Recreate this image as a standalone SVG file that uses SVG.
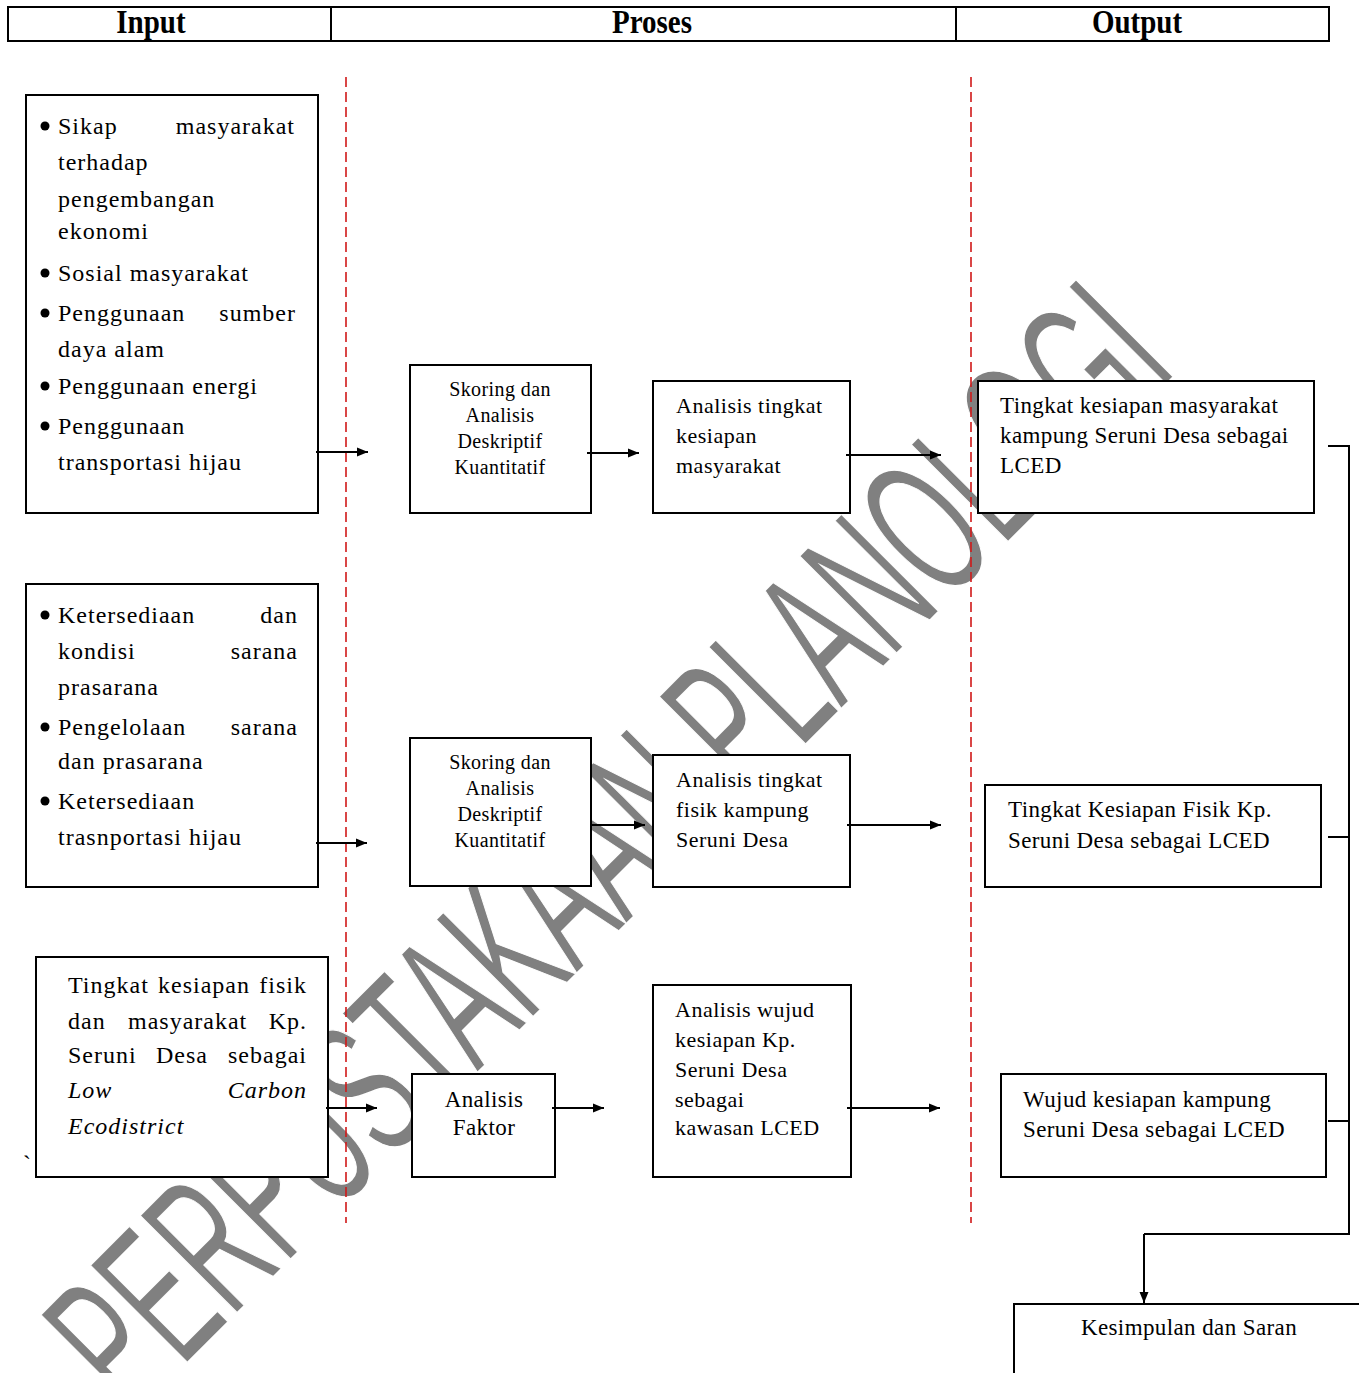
<svg xmlns="http://www.w3.org/2000/svg" width="1359" height="1373" viewBox="0 0 1359 1373">
<defs>
<style>
.box{fill:#fff;stroke:#000;stroke-width:2}
.t{font-family:"Liberation Serif","Times New Roman",serif;fill:#000}
.in{font-size:24px;letter-spacing:1px}
.pr{font-size:20px;letter-spacing:0.4px}
.pa{font-size:22px;letter-spacing:0.5px}
.out{font-size:23px;letter-spacing:0.4px}
.hd{font-family:"Liberation Serif","Times New Roman",serif;font-weight:bold;font-size:29px;text-anchor:middle}
.c{stroke:#000;stroke-width:2;fill:none}
.a{marker-end:url(#ah)}
.red{stroke:#d01818;stroke-width:1.6;stroke-dasharray:10 5;fill:none}
.e{text-anchor:end}
.m{text-anchor:middle}
</style>
<marker id="ah" markerUnits="userSpaceOnUse" markerWidth="12" markerHeight="10" refX="11" refY="5" orient="auto">
<path d="M0,0.5 L11,5 L0,9.5 z" fill="#000"/>
</marker>
</defs>
<rect width="1359" height="1373" fill="#fff"/>

<g id="watermark">
<text transform="translate(132,1418) rotate(-45)" x="0" y="0" textLength="1482" lengthAdjust="spacingAndGlyphs" font-family="Liberation Sans, Arial, sans-serif" font-size="200" fill="#808080" stroke="#fff" stroke-width="1.5">PERPUSTAKAAN PLANOLOGI</text>
</g>

<g id="header">
<rect x="8" y="7" width="1321" height="34" fill="none" stroke="#000" stroke-width="2"/>
<line x1="331" y1="7" x2="331" y2="41" stroke="#000" stroke-width="2"/>
<line x1="956" y1="7" x2="956" y2="41" stroke="#000" stroke-width="2"/>
<text class="hd" transform="translate(151,33) scale(1,1.15)">Input</text>
<text class="hd" transform="translate(652,33) scale(1,1.15)">Proses</text>
<text class="hd" transform="translate(1137,33) scale(1,1.15)">Output</text>
</g>

<g id="input1">
<rect class="box" x="26" y="95" width="292" height="418"/>
<circle cx="45" cy="126" r="4.5"/>
<circle cx="45" cy="273" r="4.5"/>
<circle cx="45" cy="313" r="4.5"/>
<circle cx="45" cy="386" r="4.5"/>
<circle cx="45" cy="426" r="4.5"/>
<text class="t in" x="58" y="134">Sikap</text>
<text class="t in e" x="295" y="134">masyarakat</text>
<text class="t in" x="58" y="170">terhadap</text>
<text class="t in" x="58" y="207">pengembangan</text>
<text class="t in" x="58" y="239">ekonomi</text>
<text class="t in" x="58" y="281">Sosial masyarakat</text>
<text class="t in" x="58" y="321">Penggunaan</text>
<text class="t in e" x="296" y="321">sumber</text>
<text class="t in" x="58" y="357">daya alam</text>
<text class="t in" x="58" y="394">Penggunaan energi</text>
<text class="t in" x="58" y="434">Penggunaan</text>
<text class="t in" x="58" y="470">transportasi hijau</text>
</g>

<g id="input2">
<rect class="box" x="26" y="584" width="292" height="303"/>
<circle cx="45" cy="615" r="4.5"/>
<circle cx="45" cy="727" r="4.5"/>
<circle cx="45" cy="801" r="4.5"/>
<text class="t in" x="58" y="623">Ketersediaan</text>
<text class="t in e" x="298" y="623">dan</text>
<text class="t in" x="58" y="659">kondisi</text>
<text class="t in e" x="298" y="659">sarana</text>
<text class="t in" x="58" y="695">prasarana</text>
<text class="t in" x="58" y="735">Pengelolaan</text>
<text class="t in e" x="298" y="735">sarana</text>
<text class="t in" x="58" y="769">dan prasarana</text>
<text class="t in" x="58" y="809">Ketersediaan</text>
<text class="t in" x="58" y="845">trasnportasi hijau</text>
</g>

<g id="input3">
<rect class="box" x="36" y="957" width="292" height="220"/>
<text class="t in" x="68" y="993">Tingkat</text>
<text class="t in" x="158" y="993">kesiapan</text>
<text class="t in e" x="307" y="993">fisik</text>
<text class="t in" x="68" y="1029">dan</text>
<text class="t in" x="128" y="1029">masyarakat</text>
<text class="t in e" x="307" y="1029">Kp.</text>
<text class="t in" x="68" y="1063">Seruni</text>
<text class="t in" x="156" y="1063">Desa</text>
<text class="t in e" x="307" y="1063">sebagai</text>
<text class="t in" x="68" y="1098" font-style="italic">Low</text>
<text class="t in e" x="307" y="1098" font-style="italic">Carbon</text>
<text class="t in" x="68" y="1134" font-style="italic">Ecodistrict</text>
</g>
<text class="t in" x="23" y="1172">`</text>

<g id="proc1a">
<rect class="box" x="410" y="365" width="181" height="148"/>
<text class="t pr m" x="500" y="396">Skoring dan</text>
<text class="t pr m" x="500" y="422">Analisis</text>
<text class="t pr m" x="500" y="448">Deskriptif</text>
<text class="t pr m" x="500" y="474">Kuantitatif</text>
</g>
<g id="proc1b">
<rect class="box" x="653" y="381" width="197" height="132"/>
<text class="t pa" x="676" y="413">Analisis tingkat</text>
<text class="t pa" x="676" y="443">kesiapan</text>
<text class="t pa" x="676" y="473">masyarakat</text>
</g>
<g id="out1">
<rect class="box" x="978" y="381" width="336" height="132"/>
<text class="t out" x="1000" y="413">Tingkat kesiapan masyarakat</text>
<text class="t out" x="1000" y="443">kampung Seruni Desa sebagai</text>
<text class="t out" x="1000" y="473">LCED</text>
</g>

<g id="proc2a">
<rect class="box" x="410" y="738" width="181" height="148"/>
<text class="t pr m" x="500" y="769">Skoring dan</text>
<text class="t pr m" x="500" y="795">Analisis</text>
<text class="t pr m" x="500" y="821">Deskriptif</text>
<text class="t pr m" x="500" y="847">Kuantitatif</text>
</g>
<g id="proc2b">
<rect class="box" x="653" y="755" width="197" height="132"/>
<text class="t pa" x="676" y="787">Analisis tingkat</text>
<text class="t pa" x="676" y="817">fisik kampung</text>
<text class="t pa" x="676" y="847">Seruni Desa</text>
</g>
<g id="out2">
<rect class="box" x="985" y="785" width="336" height="102"/>
<text class="t out" x="1008" y="817">Tingkat Kesiapan Fisik Kp.</text>
<text class="t out" x="1008" y="848">Seruni Desa sebagai LCED</text>
</g>

<g id="proc3a">
<rect class="box" x="412" y="1074" width="143" height="103"/>
<text class="t out m" x="484" y="1107">Analisis</text>
<text class="t out m" x="484" y="1135">Faktor</text>
</g>
<g id="proc3b">
<rect class="box" x="653" y="985" width="198" height="192"/>
<text class="t pa" x="675" y="1017">Analisis wujud</text>
<text class="t pa" x="675" y="1047">kesiapan Kp.</text>
<text class="t pa" x="675" y="1077">Seruni Desa</text>
<text class="t pa" x="675" y="1107">sebagai</text>
<text class="t pa" x="675" y="1135">kawasan LCED</text>
</g>
<g id="out3">
<rect class="box" x="1001" y="1074" width="325" height="103"/>
<text class="t out" x="1023" y="1107">Wujud kesiapan kampung</text>
<text class="t out" x="1023" y="1137">Seruni Desa sebagai LCED</text>
</g>

<g id="conclusion">
<rect class="box" x="1014" y="1304" width="420" height="200"/>
<text class="t out m" x="1189" y="1335">Kesimpulan dan Saran</text>
</g>

<g id="dividers">
<line class="red" x1="346" y1="77" x2="346" y2="1223"/>
<line class="red" x1="971" y1="77" x2="971" y2="1223"/>
</g>

<g id="connectors">
<line class="c a" x1="316" y1="452" x2="368" y2="452"/>
<line class="c a" x1="587" y1="453" x2="639" y2="453"/>
<line class="c a" x1="846" y1="455" x2="941" y2="455"/>
<line class="c a" x1="316" y1="843" x2="367" y2="843"/>
<line class="c a" x1="591" y1="825" x2="645" y2="825"/>
<line class="c a" x1="847" y1="825" x2="941" y2="825"/>
<line class="c a" x1="326" y1="1108" x2="377" y2="1108"/>
<line class="c a" x1="552" y1="1108" x2="604" y2="1108"/>
<line class="c a" x1="847" y1="1108" x2="940" y2="1108"/>
<polyline class="c" points="1328,446 1349,446 1349,1234 1144,1234"/>
<line class="c a" x1="1144" y1="1234" x2="1144" y2="1303"/>
<line class="c" x1="1328" y1="837" x2="1349" y2="837"/>
<line class="c" x1="1328" y1="1121" x2="1349" y2="1121"/>
</g>
</svg>
